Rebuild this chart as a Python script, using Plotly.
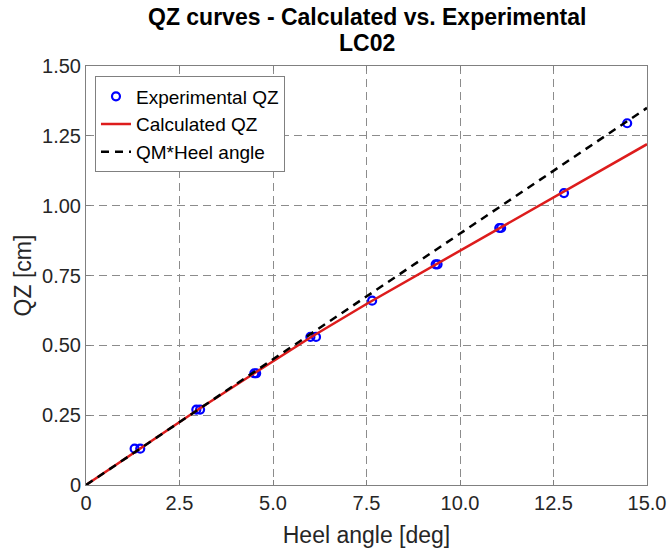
import plotly.graph_objects as go

exp_heel = [1.3, 1.45, 2.95, 3.05, 4.5, 4.55, 6.0, 6.15, 7.65, 9.35, 9.4, 11.05, 11.1, 12.78, 14.47]
exp_qz = [0.13, 0.13, 0.27, 0.27, 0.40, 0.40, 0.53, 0.53, 0.66, 0.79, 0.79, 0.92, 0.92, 1.045, 1.295]

calc_heel = [0, 1.5, 3.0, 4.5, 6.0, 7.5, 9.0, 10.5, 12.0, 13.5, 15.0]
calc_qz = [0, 0.135, 0.27, 0.40, 0.528, 0.648, 0.762, 0.878, 0.993, 1.107, 1.22]

qm_heel = [0, 15.0]
qm_qz = [0, 1.35]

xtick_vals = [0, 2.5, 5, 7.5, 10, 12.5, 15]
xtick_text = ["0", "2.5", "5.0", "7.5", "10.0", "12.5", "15.0"]
ytick_vals = [0, 0.25, 0.5, 0.75, 1.0, 1.25, 1.5]
ytick_text = ["0", "0.25", "0.50", "0.75", "1.00", "1.25", "1.50"]

title_lines = ["QZ curves - Calculated vs. Experimental", "LC02"]

font = "Liberation Sans, Arial, Helvetica, sans-serif"

fig = go.Figure()
fig.add_trace(go.Scatter(x=exp_heel, y=exp_qz, mode="markers", name="Experimental QZ",
                         marker=dict(symbol="circle-open", size=8, color="#0000ff",
                                     line=dict(width=2.2, color="#0000ff"))))
fig.add_trace(go.Scatter(x=calc_heel, y=calc_qz, mode="lines", name="Calculated QZ",
                         line=dict(color="#dd1c1c", width=2.5)))
fig.add_trace(go.Scatter(x=qm_heel, y=qm_qz, mode="lines", name="QM*Heel angle",
                         line=dict(color="black", width=2.5, dash="8px,6px")))

axis_common = dict(showline=True, linecolor="#808080", linewidth=1, mirror="ticks",
                   ticks="inside", ticklen=5, tickcolor="#808080",
                   showgrid=True, gridcolor="#8c8c8c", griddash="8px,5px", gridwidth=1,
                   zeroline=False, tickfont=dict(size=20, color="#262626", family=font),
                   title_font=dict(size=23, color="#262626", family=font),
                   automargin=False)

fig.update_xaxes(range=[0, 15], tickvals=xtick_vals, ticktext=xtick_text,
                 title_text="Heel angle [deg]", title_standoff=14, **axis_common)
fig.update_yaxes(range=[0, 1.5], tickvals=ytick_vals, ticktext=ytick_text,
                 title_text="QZ [cm]", title_standoff=4, **axis_common)

for txt, yp in zip(title_lines, [1.117, 1.055]):
    fig.add_annotation(text="<b>" + txt + "</b>", xref="paper", yref="paper",
                       x=0.5, y=yp, xanchor="center", yanchor="middle", showarrow=False,
                       font=dict(size=23, color="black", family=font))

fig.update_layout(
    width=671, height=548,
    margin=dict(l=86, r=24, t=66, b=63),
    paper_bgcolor="white", plot_bgcolor="white",
    legend=dict(x=0.016, y=0.975, xanchor="left", yanchor="top",
                bgcolor="white", bordercolor="#808080", borderwidth=1,
                font=dict(size=19, color="black", family=font),
                tracegroupgap=0, itemwidth=30),
    showlegend=True,
)

fig.write_html("out.html")
